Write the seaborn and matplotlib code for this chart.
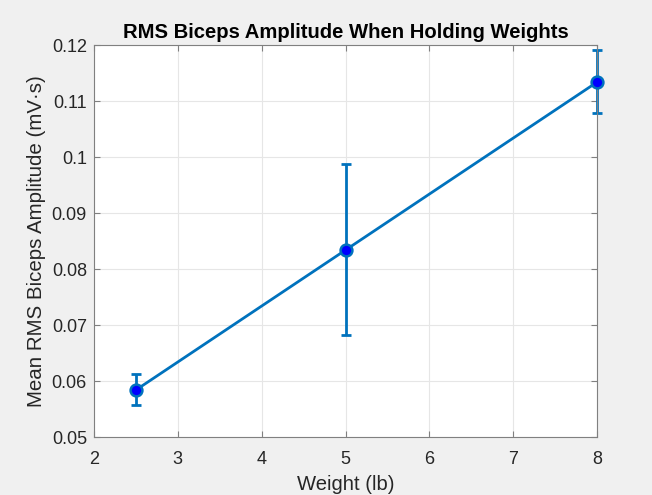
import numpy as np
import pandas as pd
import matplotlib
matplotlib.use('Agg')
import matplotlib.pyplot as plt
import seaborn as sns

# 무게별 평균 RMS 이두근 진폭
weight = [2.5, 5, 8]
mean_rms = [0.0584, 0.0834, 0.1134]
err_low = [0.0557, 0.0682, 0.1078]
err_high = [0.0613, 0.0988, 0.1192]

df = pd.DataFrame({'weight': weight, 'rms': mean_rms})

sns.set_style('whitegrid')
plt.rcParams['font.family'] = ['Liberation Sans', 'DejaVu Sans']

fig = plt.figure(figsize=(6.52, 4.95), dpi=100, facecolor='#f0f0f0')
ax = fig.add_axes([0.144, 0.117, 0.772, 0.792])
ax.set_facecolor('white')

line_c = '#0072BD'
yerr = [np.array(mean_rms) - np.array(err_low), np.array(err_high) - np.array(mean_rms)]
eb = ax.errorbar(weight, mean_rms, yerr=yerr, fmt='none', ecolor=line_c,
                 elinewidth=2, capsize=3.8, capthick=2, zorder=2)
for art in eb.lines[1] + eb.lines[2]:
    art.set_clip_on(False)
sns.lineplot(data=df, x='weight', y='rms', ax=ax, color=line_c, linewidth=2,
             marker='o', markersize=8.5, markerfacecolor='#0000ff',
             markeredgecolor=line_c, markeredgewidth=1.8, zorder=3, clip_on=False)

ax.set_xlim(2, 8)
ax.set_ylim(0.05, 0.12)
ax.set_xticks(range(2, 9))
ax.set_yticks(np.arange(0.05, 0.1201, 0.01))
ax.set_yticklabels(['0.05', '0.06', '0.07', '0.08', '0.09', '0.1', '0.11', '0.12'])

ax.grid(True, color='#e6e6e6', linewidth=0.8)
for s in ax.spines.values():
    s.set_visible(True)
    s.set_color('#808080')
    s.set_linewidth(0.8)
ax.tick_params(direction='in', length=4, color='#808080', labelsize=13,
               labelcolor='#262626', top=True, right=True, left=True, bottom=True)
ax.tick_params(axis='x', pad=10)
ax.tick_params(axis='y', pad=5)

ax.set_xlabel('Weight (lb)', fontsize=14.6, color='#262626', labelpad=5)
ax.set_ylabel('Mean RMS Biceps Amplitude (mV\u00b7s)', fontsize=14.8, color='#262626', labelpad=4)
ax.set_title('RMS Biceps Amplitude When Holding Weights', fontsize=14.6,
             fontweight='bold', color='black', pad=5)

fig.savefig('out.png', dpi=100, facecolor=fig.get_facecolor())
